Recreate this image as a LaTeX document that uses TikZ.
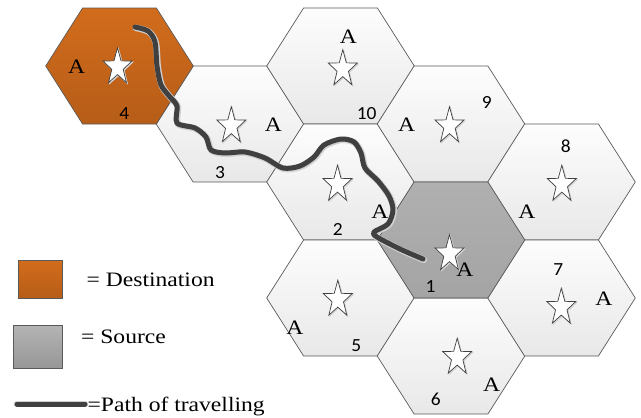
\documentclass[tikz,border=0pt]{standalone}
\usepackage{fontspec}
\setmainfont{Liberation Serif}[FakeStretch=1.15]
\newfontfamily\numfont{Carlito}[FakeStretch=1.05]
\usetikzlibrary{calc}

\definecolor{edgegray}{HTML}{5A5A5A}
\definecolor{pathgray}{HTML}{404040}
\definecolor{orangetop}{RGB}{210,108,28}
\definecolor{orangebot}{RGB}{182,93,24}
\definecolor{srctop}{RGB}{176,176,176}
\definecolor{srcbot}{RGB}{164,164,164}
\definecolor{celltop}{RGB}{253,253,253}
\definecolor{cellbot}{RGB}{232,232,232}

\tikzset{
  cellplain/.style={draw=edgegray, line width=0.7pt, top color=celltop, bottom color=cellbot},
  celldest/.style={draw=edgegray, line width=0.7pt, top color=orangetop, bottom color=orangebot},
  cellsrc/.style={draw=edgegray, line width=0.7pt, top color=srctop, bottom color=srcbot},
  starline/.style={draw=pathgray, line width=0.7pt, fill=white, line join=miter},
  starshade/.style={draw=black!18, line width=0.8pt, fill=black!12},
  lbl/.style={inner sep=0pt, font=\fontsize{20.5}{22}\selectfont},
  num/.style={inner sep=0pt, font=\numfont\fontsize{18.5}{20}\selectfont},
  legendtext/.style={inner sep=0pt, font=\fontsize{20.5}{22}\selectfont},
  route/.style={draw=pathgray, line width=5pt, line cap=round, line join=round},
  routeshade/.style={draw=black!18, line width=6.5pt, line cap=round, line join=round},
}

% flat-topped hexagonal cell: name, centre x, centre y, style
\newcommand\hexcell[4]{%
  \coordinate (#1) at (#2,#3);
  \path[#4, shift={(#1)}] (-73.8,0) -- (-36.9,-58) -- (36.9,-58) -- (73.8,0)
    -- (36.9,58) -- (-36.9,58) -- cycle;
}
% five-pointed star marker: name, centre x, centre y
\newcommand\starmark[3]{%
  \coordinate (#1) at (#2,#3);
  \path[starshade, shift={($(#1)+(1,1)$)}]
    (270:15.2 and 19.3) -- (306:6 and 7.6) -- (342:15.2 and 19.3) -- (18:6 and 7.6)
    -- (54:15.2 and 19.3) -- (90:6 and 7.6) -- (126:15.2 and 19.3) -- (162:6 and 7.6)
    -- (198:15.2 and 19.3) -- (234:6 and 7.6) -- cycle;
  \path[starline, shift={(#1)}]
    (270:15.2 and 19.3) -- (306:6 and 7.6) -- (342:15.2 and 19.3) -- (18:6 and 7.6)
    -- (54:15.2 and 19.3) -- (90:6 and 7.6) -- (126:15.2 and 19.3) -- (162:6 and 7.6)
    -- (198:15.2 and 19.3) -- (234:6 and 7.6) -- cycle;
}

\begin{document}
\begin{tikzpicture}[x=1pt, y=-1pt]
\useasboundingbox (0,0) rectangle (641,418);
\fill[white] (0,0) rectangle (641,418);

% grid of cells
\hexcell{c3}{230}{124}{cellplain}
\hexcell{c10}{340.5}{66}{cellplain}
\hexcell{c2}{340.5}{182}{cellplain}
\hexcell{c5}{340.5}{298}{cellplain}
\hexcell{c9}{451}{124}{cellplain}
\hexcell{c6}{451}{356}{cellplain}
\hexcell{c8}{561.5}{182}{cellplain}
\hexcell{c7}{561.5}{298}{cellplain}
\hexcell{c4}{119.5}{66}{celldest}
\hexcell{c1}{451}{240}{cellsrc}

% stars
\starmark{s4}{117.5}{67}
\starmark{s3}{231.3}{126}
\starmark{s10}{342.8}{69}
\starmark{s9}{449.5}{126}
\starmark{s8}{561.8}{184.5}
\starmark{s2}{337.5}{184.5}
\starmark{s1}{449.5}{254}
\starmark{s7}{561.3}{307.5}
\starmark{s6}{457.2}{357.5}
\starmark{s5}{337.8}{299.5}

% letters
\node[lbl] (a4) at (76.7,66.7) {A};
\node[lbl] (a3) at (273.3,125) {A};
\node[lbl] (a10) at (348.3,36.7) {A};
\node[lbl] (a9) at (406.7,125) {A};
\node[lbl] (a8) at (527,211.5) {A};
\node[lbl] (a2) at (380,211.7) {A};
\node[lbl] (a1) at (465,270) {A};
\node[lbl] (a7) at (603.8,298.3) {A};
\node[lbl] (a6) at (491.7,385) {A};
\node[lbl] (a5) at (295,327.5) {A};

% cell numbers
\node[num] (n4) at (124.3,114) {4};
\node[num] (n3) at (220,172.5) {3};
\node[num] (n10) at (366.7,114) {10};
\node[num] (n9) at (486.7,102) {9};
\node[num] (n8) at (565.7,146) {8};
\node[num] (n2) at (337.7,229.7) {2};
\node[num] (n1) at (430.5,286.3) {1};
\node[num] (n7) at (558.3,269.2) {7};
\node[num] (n6) at (435.8,399.5) {6};
\node[num] (n5) at (356.3,345.5) {5};

% travelled route from source to destination
\def\routepts{(135,27) (148,31) (155,42) (157,66) (161,85) (170,97) (177,106)
  (177,123) (195,128) (206,137) (211,150) (225,153) (245,152) (265,158)
  (283,168) (300,166) (314,157) (324,145) (341,139) (354,142) (361,153)
  (365,168) (378,181) (389,196) (393,210) (388,224) (374,232) (377,237)
  (400,249) (423,259)}
\draw[routeshade, shift={(0.8,0.8)}] plot[smooth, tension=0.5] coordinates {\routepts};
\draw[route] plot[smooth, tension=0.5] coordinates {\routepts};

% legend
\path[celldest] (18,260) rectangle (62,298);
\node[legendtext, anchor=base west] (ldest) at (86.5,286) {= Destination};
\path[cellsrc, top color=srctop!95!white, bottom color=srcbot!92!black] (13,325) rectangle (62,368);
\node[legendtext, anchor=base west] (lsrc) at (81,343) {= Source};
\coordinate (la) at (17,404);
\coordinate (lb) at (85,404);
\draw[routeshade, shift={(0.8,0.8)}] (la) -- (lb);
\draw[route] (la) -- (lb);
\node[legendtext, anchor=base west] (lpath) at (87.5,411.5) {=Path of travelling};
\end{tikzpicture}
\end{document}
